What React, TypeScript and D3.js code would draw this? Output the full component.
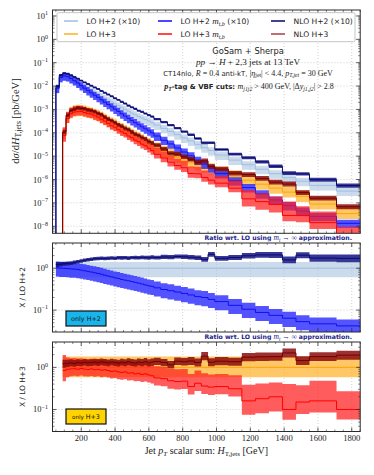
import React from 'react';
import * as d3 from 'd3';

// ---------------- data ----------------
const edges = [
  50, 70, 90, 110, 130, 150, 170, 190, 210, 230,
  250, 270, 290, 310, 330, 350, 370, 390, 410, 430,
  450, 470, 490, 510, 530, 550, 570, 590, 610, 630,
  670, 710, 750, 790, 830, 870, 910, 950, 990,
  1070, 1150, 1230, 1310, 1390, 1470, 1550,
  1710, 1870,
];

// LO H+2 (m_t -> inf), pb/GeV (drawn x10)
const loH2 = [
  7.9e-4, 2.34e-3, 2.75e-3, 2.57e-3, 2.19e-3, 1.78e-3, 1.45e-3, 1.15e-3, 9.3e-4, 7.6e-4,
  6.3e-4, 5.2e-4, 4.4e-4, 3.6e-4, 3.0e-4, 2.5e-4, 2.1e-4, 1.74e-4, 1.45e-4, 1.2e-4,
  1.0e-4, 8.3e-5, 6.9e-5, 5.9e-5, 5.0e-5, 4.3e-5, 3.7e-5, 3.2e-5, 2.7e-5,
  2.14e-5, 1.55e-5, 1.15e-5, 8.3e-6, 6.0e-6, 4.5e-6, 3.2e-6, 2.3e-6, 1.74e-6,
  1.12e-6, 6.8e-7, 4.3e-7, 2.75e-7, 1.78e-7, 1.2e-7, 8.5e-8,
  5.6e-8, 3.2e-8,
];
// LO H+3 (m_t -> inf), pb/GeV
const loH3 = [
  null, null, 8.9e-5, 4.5e-4, 7.1e-4, 8.3e-4, 8.9e-4, 8.7e-4, 8.1e-4, 7.4e-4,
  6.8e-4, 6.0e-4, 5.2e-4, 4.4e-4, 3.6e-4, 3.0e-4, 2.5e-4, 2.1e-4, 1.74e-4, 1.45e-4,
  1.2e-4, 1.0e-4, 8.3e-5, 6.9e-5, 5.8e-5, 4.8e-5, 4.0e-5, 3.3e-5, 2.75e-5,
  2.14e-5, 1.55e-5, 1.15e-5, 8.7e-6, 6.8e-6, 5.2e-6, 4.2e-6, 3.4e-6, 2.75e-6,
  2.0e-6, 1.38e-6, 9.3e-7, 6.3e-7, 4.3e-7, 2.9e-7, 1.9e-7,
  8.9e-8, 3.5e-8,
];
// ratios wrt LO H+2
const mtb2Ratio = [
  1.02, 1.00, 0.99, 0.98, 0.96, 0.95, 0.93, 0.90, 0.87, 0.84,
  0.81, 0.78, 0.75, 0.72, 0.68, 0.65, 0.62, 0.59, 0.57, 0.54,
  0.52, 0.50, 0.48, 0.46, 0.44, 0.42, 0.40, 0.38, 0.37,
  0.34, 0.31, 0.29, 0.27, 0.25, 0.23, 0.21, 0.20, 0.18,
  0.16, 0.13, 0.105, 0.088, 0.075, 0.064, 0.053,
  0.047, 0.042,
];
const nlo2Ratio = [
  1.22, 1.25, 1.28, 1.30, 1.33, 1.38, 1.43, 1.49, 1.55, 1.60,
  1.64, 1.68, 1.70, 1.72, 1.71, 1.74, 1.75, 1.73, 1.77, 1.76,
  1.78, 1.75, 1.79, 1.80, 1.77, 1.82, 1.80, 1.78, 1.83,
  1.80, 1.86, 1.84, 1.90, 1.87, 1.82, 1.78, 1.62, 2.15,
  1.72, 1.80, 1.98, 2.08, 2.08, 1.58, 2.05,
  1.75, 1.72,
];
const nlo2Err = [
  1.15, 1.13, 1.12, 1.12, 1.11, 1.11, 1.10, 1.10, 1.10, 1.10,
  1.10, 1.10, 1.10, 1.10, 1.10, 1.10, 1.10, 1.10, 1.10, 1.11,
  1.10, 1.11, 1.10, 1.11, 1.10, 1.11, 1.11, 1.11, 1.12,
  1.11, 1.12, 1.12, 1.12, 1.13, 1.13, 1.13, 1.14, 1.14,
  1.14, 1.15, 1.16, 1.17, 1.18, 1.20, 1.18,
  1.22, 1.24,
];
// ratios wrt LO H+3
const mtb3Ratio = [
  null, null, 0.85, 0.90, 0.92, 0.93, 0.90, 0.94, 0.91, 0.89,
  0.92, 0.88, 0.90, 0.86, 0.88, 0.84, 0.80, 0.82, 0.78, 0.76,
  0.78, 0.73, 0.74, 0.70, 0.72, 0.68, 0.70, 0.66, 0.63,
  0.56, 0.54, 0.48, 0.46, 0.47, 0.35, 0.42, 0.36, 0.34,
  0.35, 0.31, 0.16, 0.18, 0.20, 0.10, 0.15,
  0.16, 0.10,
];
const mtb3Up = [
  null, null, 2.3, 1.9, 1.8, 1.8, 1.8, 1.75, 1.75, 1.75,
  1.75, 1.75, 1.75, 1.75, 1.75, 1.75, 1.75, 1.75, 1.78, 1.78,
  1.78, 1.8, 1.8, 1.8, 1.8, 1.82, 1.82, 1.85, 1.85,
  1.9, 1.9, 1.9, 1.95, 1.95, 2.0, 2.0, 2.0, 2.0,
  2.0, 2.1, 2.4, 2.3, 2.2, 4.0, 2.5,
  3.0, 2.7,
];
const mtb3Dn = [
  null, null, 0.55, 0.65, 0.67, 0.68, 0.68, 0.68, 0.68, 0.68,
  0.68, 0.68, 0.68, 0.68, 0.68, 0.68, 0.68, 0.68, 0.67, 0.67,
  0.67, 0.67, 0.67, 0.67, 0.66, 0.66, 0.66, 0.66, 0.66,
  0.66, 0.66, 0.65, 0.65, 0.65, 0.65, 0.65, 0.65, 0.65,
  0.66, 0.66, 0.47, 0.45, 0.45, 0.57, 0.52,
  0.53, 0.58,
];
const nlo3Ratio = [
  null, null, 1.22, 1.25, 1.28, 1.24, 1.30, 1.27, 1.32, 1.28,
  1.30, 1.33, 1.29, 1.35, 1.31, 1.28, 1.34, 1.30, 1.26, 1.33,
  1.29, 1.36, 1.31, 1.27, 1.34, 1.30, 1.36, 1.28, 1.33,
  1.38, 1.30, 1.15, 1.40, 1.36, 1.42, 1.30, 1.85, 1.32,
  1.40, 1.36, 1.75, 1.78, 1.80, 2.20, 1.45,
  1.80, 1.95,
];
const nlo3Err = [
  null, null, 1.25, 1.22, 1.21, 1.2, 1.2, 1.2, 1.2, 1.2,
  1.2, 1.2, 1.2, 1.2, 1.2, 1.2, 1.2, 1.2, 1.2, 1.2,
  1.21, 1.21, 1.21, 1.21, 1.21, 1.22, 1.22, 1.22, 1.22,
  1.22, 1.22, 1.23, 1.23, 1.23, 1.24, 1.24, 1.26, 1.25,
  1.25, 1.25, 1.26, 1.26, 1.26, 1.28, 1.27,
  1.27, 1.28,
];
const loH2Band = [0.61, 1.40];
const loH3Band = [0.58, 1.80];
const mtb2Band = [0.62, 1.42];
const h2Scale = 10;

const xTickValues = [200, 400, 600, 800, 1000, 1200, 1400, 1600, 1800];
const mainDecades = [-8, -7, -6, -5, -4, -3, -2, -1, 0, 1];
const ratioDecades = [-1, 0];

// ---------------- layout ----------------
const X0 = 52.5, X1 = 360.2;
const MAIN = { top: 10, bottom: 233.3 };
const R1 = { top: 243, bottom: 332 };
const R2 = { top: 342, bottom: 431.5 };
const SANS = 'DejaVu Sans, sans-serif';
const SERIF = 'Liberation Serif, DejaVu Serif, serif';

type Arr = (number | null)[];
type Series = { c: Arr; lo: Arr; hi: Arr; band: string; bandOp: number; line: string };

const mul = (a: Arr, b: Arr | number): Arr =>
  a.map((v, i) => {
    const w = typeof b === 'number' ? b : b[i];
    return v == null || w == null ? null : v * w;
  });
const div = (a: Arr, b: Arr): Arr => a.map((v, i) => (v == null || b[i] == null ? null : v / (b[i] as number)));
const ones = (a: Arr): Arr => a.map((v) => (v == null ? null : 1));

export default function App() {
  const x = d3.scaleLinear().domain([30, 1850]).range([X0, X1]);
  const yMain = d3.scaleLog().domain([5e-9, 18]).range([MAIN.bottom, MAIN.top]);
  const yR1 = d3.scaleLog().domain([0.03, 4]).range([R1.bottom, R1.top]);
  const yR2 = d3.scaleLog().domain([0.03, 4]).range([R2.bottom, R2.top]);

  const stepArea = (y: any, lo: Arr, hi: Arr) => {
    const data: [number, number, number][] = [];
    let last = -1;
    lo.forEach((v, i) => {
      if (v == null || hi[i] == null) return;
      data.push([edges[i], v, hi[i] as number]);
      last = i;
    });
    data.push([edges[last + 1], lo[last] as number, hi[last] as number]);
    return d3
      .area<[number, number, number]>()
      .x((d) => x(d[0]))
      .y0((d) => y(d[1]))
      .y1((d) => y(d[2]))
      .curve(d3.curveStepAfter)(data) as string;
  };
  const stepLine = (y: any, c: Arr, floor?: number) => {
    const data: [number, number][] = [];
    let last = -1;
    c.forEach((v, i) => {
      if (v == null) return;
      if (data.length === 0 && floor != null) data.push([edges[i], floor]);
      data.push([edges[i], v]);
      last = i;
    });
    data.push([edges[last + 1], c[last] as number]);
    return d3
      .line<[number, number]>()
      .x((d) => x(d[0]))
      .y((d) => y(d[1]))
      .curve(d3.curveStepAfter)(data) as string;
  };

  // ratio-space series
  const r2: Series[] = [
    { c: ones(loH2), lo: mul(ones(loH2), loH2Band[0]), hi: mul(ones(loH2), loH2Band[1]), band: '#a9c3de', bandOp: 0.6, line: '#9dbfe3' },
    { c: mtb2Ratio, lo: mul(mtb2Ratio, mtb2Band[0]), hi: mul(mtb2Ratio, mtb2Band[1]), band: '#2424ff', bandOp: 0.78, line: '#1010f0' },
    { c: nlo2Ratio, lo: div(nlo2Ratio, nlo2Err), hi: mul(nlo2Ratio, nlo2Err), band: '#141488', bandOp: 0.85, line: '#0a0a6a' },
  ];
  const r3: Series[] = [
    { c: ones(loH3), lo: mul(ones(loH3), loH3Band[0]), hi: mul(ones(loH3), loH3Band[1]), band: '#ffb22a', bandOp: 0.72, line: '#ffa500' },
    { c: mtb3Ratio, lo: mul(mtb3Ratio, mtb3Dn), hi: mul(mtb3Ratio, mtb3Up), band: '#ff1e1e', bandOp: 0.72, line: '#ff0000' },
    { c: nlo3Ratio, lo: div(nlo3Ratio, nlo3Err), hi: mul(nlo3Ratio, nlo3Err), band: '#8c0c0c', bandOp: 0.85, line: '#700000' },
  ];
  const base2 = mul(loH2, h2Scale);
  const toMain = (s: Series, base: Arr): Series => ({ ...s, c: mul(s.c, base), lo: mul(s.lo, base), hi: mul(s.hi, base) });
  const mainSeries: Series[] = [
    toMain(r2[0], base2),
    toMain(r3[0], loH3),
    toMain(r2[1], base2),
    toMain(r3[1], loH3),
    toMain(r2[2], base2),
    toMain(r3[2], loH3),
  ];

  const drawSeries = (list: Series[], y: any, clip: string, floor?: number) => (
    <g clipPath={`url(#${clip})`}>
      {list.map((s, i) => (
        <g key={i}>
          <path d={stepArea(y, s.lo, s.hi)} fill={s.band} fillOpacity={s.bandOp} stroke="none" />
          <path d={stepLine(y, s.c, floor)} fill="none" stroke={s.line} strokeWidth={1} />
        </g>
      ))}
    </g>
  );

  const xMinor = d3.range(50, 1851, 50).filter((v) => v % 200 !== 0);
  const logMinors = (dom: [number, number]) => {
    const out: number[] = [];
    for (let k = -10; k <= 2; k++) for (let m = 2; m <= 9; m++) {
      const v = m * Math.pow(10, k);
      if (v > dom[0] && v < dom[1]) out.push(v);
    }
    return out;
  };

  const frame = (y: any, top: number, bottom: number, decades: number[], dom: [number, number]) => {
    const els: JSX.Element[] = [];
    // grid
    xTickValues.forEach((v) =>
      els.push(<line key={'gx' + v} x1={x(v)} x2={x(v)} y1={top} y2={bottom} stroke="#bdbdbd" strokeWidth={0.7} strokeDasharray="1,2" />)
    );
    decades.forEach((k) =>
      els.push(<line key={'gy' + k} x1={X0} x2={X1} y1={y(Math.pow(10, k))} y2={y(Math.pow(10, k))} stroke="#bdbdbd" strokeWidth={0.7} strokeDasharray="1,2" />)
    );
    return els;
  };
  const ticks = (y: any, top: number, bottom: number, decades: number[], dom: [number, number]) => {
    const els: JSX.Element[] = [];
    const tc = '#333';
    xTickValues.forEach((v) => {
      els.push(<line key={'xb' + v} x1={x(v)} x2={x(v)} y1={bottom} y2={bottom - 4} stroke={tc} strokeWidth={0.8} />);
      els.push(<line key={'xt' + v} x1={x(v)} x2={x(v)} y1={top} y2={top + 4} stroke={tc} strokeWidth={0.8} />);
    });
    xMinor.forEach((v) => {
      els.push(<line key={'xmb' + v} x1={x(v)} x2={x(v)} y1={bottom} y2={bottom - 2} stroke={tc} strokeWidth={0.6} />);
      els.push(<line key={'xmt' + v} x1={x(v)} x2={x(v)} y1={top} y2={top + 2} stroke={tc} strokeWidth={0.6} />);
    });
    decades.forEach((k) => {
      const yy = y(Math.pow(10, k));
      els.push(<line key={'yl' + k} x1={X0} x2={X0 + 4} y1={yy} y2={yy} stroke={tc} strokeWidth={0.8} />);
      els.push(<line key={'yr' + k} x1={X1} x2={X1 - 4} y1={yy} y2={yy} stroke={tc} strokeWidth={0.8} />);
      els.push(
        <text key={'yt' + k} x={48} y={yy + 3} textAnchor="end" fontFamily={SERIF} fontSize={8.5} fill="#222">
          10<tspan dy={-3.6} fontSize={6}>{k < 0 ? '\u2212' + -k : String(k)}</tspan>
        </text>
      );
    });
    logMinors(dom).forEach((v, i) => {
      const yy = y(v);
      els.push(<line key={'yml' + i} x1={X0} x2={X0 + 2} y1={yy} y2={yy} stroke={tc} strokeWidth={0.6} />);
      els.push(<line key={'ymr' + i} x1={X1} x2={X1 - 2} y1={yy} y2={yy} stroke={tc} strokeWidth={0.6} />);
    });
    els.push(<rect key="spine" x={X0} y={top} width={X1 - X0} height={bottom - top} fill="none" stroke="#2a2a2a" strokeWidth={1} />);
    return els;
  };

  const legendItems = [
    { col: 0, row: 0, color: '#9fc3e7', label: <tspan>LO H+2 (×10)</tspan> },
    { col: 0, row: 1, color: '#ffb42e', label: <tspan>LO H+3</tspan> },
    {
      col: 1, row: 0, color: '#1a1aff',
      label: (<>
        <tspan>LO H+2 </tspan><tspan fontFamily={SERIF} fontStyle="italic" fontSize={9}>m</tspan>
        <tspan fontFamily={SERIF} fontStyle="italic" fontSize={6} dy={2}>t,b</tspan>
        <tspan dy={-2}> (×10)</tspan>
      </>),
    },
    {
      col: 1, row: 1, color: '#ff1a1a',
      label: (<>
        <tspan>LO H+3 </tspan><tspan fontFamily={SERIF} fontStyle="italic" fontSize={9}>m</tspan>
        <tspan fontFamily={SERIF} fontStyle="italic" fontSize={6} dy={2}>t,b</tspan>
      </>),
    },
    { col: 2, row: 0, color: '#12127a', label: <tspan>NLO H+2 (×10)</tspan> },
    { col: 2, row: 1, color: '#b34a4a', label: <tspan>NLO H+3</tspan> },
  ];
  const colX = [64, 158, 271];
  const rowY = [21, 34];

  return (
    <svg width={374} height={475} style={{ position: 'absolute', left: 0, top: 0, background: '#fff' }}>
      <defs>
        <clipPath id="cm"><rect x={X0} y={MAIN.top} width={X1 - X0} height={MAIN.bottom - MAIN.top} /></clipPath>
        <clipPath id="c1"><rect x={X0} y={R1.top} width={X1 - X0} height={R1.bottom - R1.top} /></clipPath>
        <clipPath id="c2"><rect x={X0} y={R2.top} width={X1 - X0} height={R2.bottom - R2.top} /></clipPath>
      </defs>
      <rect x={0} y={0} width={374} height={475} fill="#fff" />

      {/* main panel */}
      {frame(yMain, MAIN.top, MAIN.bottom, mainDecades, [5e-9, 18])}
      {drawSeries(mainSeries, yMain, 'cm', 1e-12)}
      {ticks(yMain, MAIN.top, MAIN.bottom, mainDecades, [5e-9, 18])}

      {/* legend */}
      <rect x={57} y={12.7} width={298} height={29} fill="#fff" fillOpacity={0.9} stroke="#bdbdbd" strokeWidth={0.9} rx={1.5} />
      {legendItems.map((it, i) => (
        <g key={i}>
          <line x1={colX[it.col]} x2={colX[it.col] + 14} y1={rowY[it.row]} y2={rowY[it.row]} stroke={it.color} strokeWidth={1.6} />
          <text x={colX[it.col] + 22.5} y={rowY[it.row] + 3} fontFamily={SANS} fontSize={7.6} fill="#222">{it.label}</text>
        </g>
      ))}

      {/* annotations */}
      <text x={248} y={54} textAnchor="middle" fontFamily={SANS} fontSize={8.3} fill="#222">GoSam + Sherpa</text>
      <text x={248} y={64.8} textAnchor="middle" fontFamily={SERIF} fontSize={9.2} fill="#222">
        <tspan fontStyle="italic">pp</tspan> → <tspan fontStyle="italic">H</tspan> + 2,3 jets at 13 TeV
      </text>
      <text x={248} y={75.6} textAnchor="middle" fontFamily={SANS} fontSize={6.9} fill="#222">
        CT14nlo, <tspan fontFamily={SERIF} fontStyle="italic" fontSize={8}>R</tspan>
        <tspan fontFamily={SERIF} fontSize={8}> = 0.4</tspan> anti-kT,{' '}
        <tspan fontFamily={SERIF} fontSize={8}>|</tspan><tspan fontFamily={SERIF} fontStyle="italic" fontSize={8}>η</tspan>
        <tspan fontFamily={SERIF} fontSize={5.8} dy={1.8}>jet</tspan>
        <tspan fontFamily={SERIF} fontSize={8} dy={-1.8}>| &lt; 4.4, </tspan>
        <tspan fontFamily={SERIF} fontStyle="italic" fontSize={8}>p</tspan>
        <tspan fontFamily={SERIF} fontStyle="italic" fontSize={5.8} dy={1.8}>T,jet</tspan>
        <tspan fontFamily={SERIF} fontSize={8} dy={-1.8}> = 30 GeV</tspan>
      </text>
      <text x={249} y={89.2} textAnchor="middle" fontFamily={SANS} fontSize={6.9} fill="#222">
        <tspan fontFamily={SERIF} fontStyle="italic" fontWeight="bold" fontSize={8}>p</tspan>
        <tspan fontFamily={SERIF} fontStyle="italic" fontWeight="bold" fontSize={5.8} dy={1.8}>T</tspan>
        <tspan fontWeight="bold" dy={-1.8}>-tag &amp; VBF cuts: </tspan>
        <tspan fontFamily={SERIF} fontStyle="italic" fontSize={8}> m</tspan>
        <tspan fontFamily={SERIF} fontStyle="italic" fontSize={5.8} dy={1.8}>j1j2</tspan>
        <tspan fontFamily={SERIF} fontSize={8} dy={-1.8}> &gt; 400 GeV, |Δ</tspan>
        <tspan fontFamily={SERIF} fontStyle="italic" fontSize={8}>y</tspan>
        <tspan fontFamily={SERIF} fontStyle="italic" fontSize={5.8} dy={1.8}>j1,j2</tspan>
        <tspan fontFamily={SERIF} fontSize={8} dy={-1.8}>| &gt; 2.8</tspan>
      </text>

      {/* main y label */}
      <text transform="translate(19,121) rotate(-90)" textAnchor="middle" fontFamily={SERIF} fontSize={10.5} fill="#222">
        d<tspan fontStyle="italic">σ</tspan>/d<tspan fontStyle="italic">H</tspan>
        <tspan fontSize={7.5} dy={2.4}>T,jets</tspan>
        <tspan dy={-2.4}> [pb/GeV]</tspan>
      </text>

      {/* ratio headers */}
      {[R1.top - 2.6, R2.top - 2.6].map((yy, i) => (
        <text key={i} x={352} y={yy} textAnchor="end" fontFamily={SANS} fontWeight="bold" fontSize={6.2} fill="#1c1c8c">
          Ratio wrt. LO using <tspan fontFamily={SERIF} fontStyle="italic" fontWeight="normal" fontSize={7.5}>m</tspan>
          <tspan fontFamily={SERIF} fontStyle="italic" fontWeight="normal" fontSize={5.2} dy={1.5}>t</tspan>
          <tspan fontFamily={SERIF} fontWeight="normal" fontSize={7.5} dy={-1.5}> → ∞ </tspan>approximation.
        </text>
      ))}

      {/* ratio panel 1 */}
      {frame(yR1, R1.top, R1.bottom, ratioDecades, [0.03, 4])}
      {drawSeries(r2, yR1, 'c1')}
      {ticks(yR1, R1.top, R1.bottom, ratioDecades, [0.03, 4])}
      <rect x={66} y={311} width={40} height={15} fill="#19b4ea" stroke="#111" strokeWidth={1.2} />
      <text x={86} y={321.3} textAnchor="middle" fontFamily={SANS} fontSize={6.4} fill="#111">only H+2</text>
      <text transform={`translate(25,${(R1.top + R1.bottom) / 2}) rotate(-90)`} textAnchor="middle" fontFamily={SANS} fontSize={7.4} fill="#222">X / LO H+2</text>

      {/* ratio panel 2 */}
      {frame(yR2, R2.top, R2.bottom, ratioDecades, [0.03, 4])}
      {drawSeries(r3, yR2, 'c2')}
      {ticks(yR2, R2.top, R2.bottom, ratioDecades, [0.03, 4])}
      <rect x={66} y={409} width={40} height={15} fill="#ffd400" stroke="#111" strokeWidth={1.2} />
      <text x={86} y={419.3} textAnchor="middle" fontFamily={SANS} fontSize={6.4} fill="#111">
        <tspan fontSize={5.6}>only </tspan>H+3
      </text>
      <text transform={`translate(25,${(R2.top + R2.bottom) / 2}) rotate(-90)`} textAnchor="middle" fontFamily={SANS} fontSize={7.4} fill="#222">X / LO H+3</text>

      {/* x tick labels */}
      {xTickValues.map((v) => (
        <text key={v} x={x(v)} y={441} textAnchor="middle" fontFamily={SERIF} fontSize={8.6} fill="#222">{v}</text>
      ))}
      <text x={(X0 + X1) / 2} y={454} textAnchor="middle" fontFamily={SERIF} fontSize={10} fill="#222">
        Jet <tspan fontStyle="italic">p</tspan><tspan fontStyle="italic" fontSize={7} dy={2}>T</tspan>
        <tspan dy={-2}> scalar sum:  </tspan><tspan fontStyle="italic">H</tspan>
        <tspan fontSize={7} dy={2}>T,jets</tspan><tspan dy={-2}> [GeV]</tspan>
      </text>
    </svg>
  );
}
